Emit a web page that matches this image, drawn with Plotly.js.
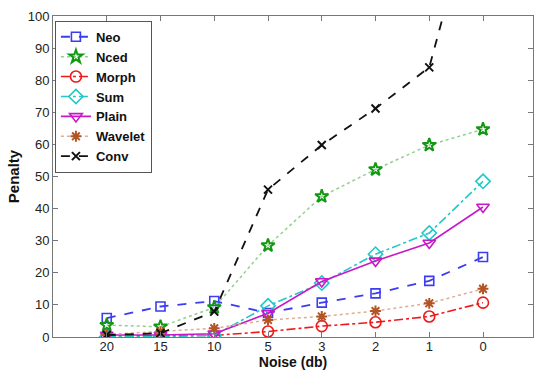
<!DOCTYPE html>
<html><head><meta charset="utf-8">
<script src="https://cdn.plot.ly/plotly-3.0.1.min.js"></script>
<style>html,body{margin:0;padding:0;background:#fff}#chart{width:534px;height:370px}</style>
</head><body><div id="chart"></div>
<script>
const noiseLabels = ['20','15','10','5','3','2','1','0'];
const neo     = [5.9, 9.5, 11.2, 7.5, 10.7, 13.6, 17.5, 24.9];
const nced    = [3.7, 3.2, 9.2, 28.5, 43.8, 52.2, 59.8, 64.7];
const morph   = [0.3, 0.3, 0.5, 1.7, 3.4, 4.6, 6.4, 10.7];
const sum     = [0.1, 0.1, 0.5, 9.7, 16.8, 25.8, 32.4, 48.5];
const plain   = [0.6, 0.6, 1.0, 7.4, 17.3, 23.7, 29.3, 40.5];
const wavelet = [0.8, 1.7, 2.7, 5.3, 6.4, 8.1, 10.5, 15.0];
const conv    = [0.6, 1.2, 7.9, 45.9, 59.8, 71.2, 84.0, 146];

const xpos = noiseLabels.map((_, i) => i + 1);
function tr(name, y, color, lineColor, dash, lw, symbol, msize, mwidth) {
  return {x: xpos, y: y, name: name, type: 'scatter', mode: 'lines+markers',
    line: {color: lineColor, dash: dash, width: lw},
    marker: {symbol: symbol, size: msize, color: color, line: {color: color, width: mwidth}}};
}
const data = [
  tr('Neo', neo, '#3c3cf0', '#3c3cf0', 'dash', 1.8, 'square-open', 9, 1.6),
  tr('Nced', nced, '#119911', '#8fd08f', 'dot', 1.5, 'star-open', 10, 2),
  tr('Morph', morph, '#f01818', '#f01818', 'dashdot', 1.6, 'circle-open', 11, 1.6),
  tr('Sum', sum, '#20c8c8', '#20c8c8', 'dashdot', 1.6, 'diamond-open', 11, 1.6),
  tr('Plain', plain, '#c818c8', '#c818c8', 'solid', 1.6, 'triangle-down-open', 11, 1.6),
  tr('Wavelet', wavelet, '#b35424', '#dcae94', 'dot', 1.5, 'asterisk-open', 9, 2),
  tr('Conv', conv, '#111111', '#111111', 'dash', 1.8, 'x-thin-open', 8, 2)
];
const layout = {
  width: 534, height: 370,
  margin: {l: 53, r: 1, t: 16, b: 33},
  paper_bgcolor: '#fff', plot_bgcolor: '#fff',
  font: {family: 'Liberation Sans, Arial, sans-serif', size: 13, color: '#222'},
  showlegend: true,
  legend: {x: 0.004, y: 0.985, xanchor: 'left', yanchor: 'top', bgcolor: '#fff',
    bordercolor: '#555', borderwidth: 1, itemwidth: 30,
    font: {family: 'Liberation Sans, Arial, sans-serif', size: 13, color: '#111', weight: 'bold'}},
  xaxis: {range: [0, 8.93], tickvals: xpos, ticktext: noiseLabels, ticks: 'inside', ticklen: 5,
    tickcolor: '#777', showline: true, linecolor: '#777', linewidth: 1, mirror: 'ticks',
    showgrid: false, zeroline: false, tickfont: {size: 13, color: '#222'}, ticklabelstandoff: -3,
    title: {text: '<b>Noise (db)</b>', font: {size: 14, color: '#111'}, standoff: 0}},
  yaxis: {range: [0, 100], dtick: 10, ticks: 'inside', ticklen: 5,
    tickcolor: '#777', showline: true, linecolor: '#777', linewidth: 1, mirror: 'ticks',
    showgrid: false, zeroline: false, tickfont: {size: 13, color: '#222'},
    title: {text: '<b>Penalty</b>', font: {size: 15, color: '#111'}, standoff: 4}}
};
Plotly.newPlot('chart', data, layout, {displayModeBar: false, staticPlot: true});
</script></body></html>
